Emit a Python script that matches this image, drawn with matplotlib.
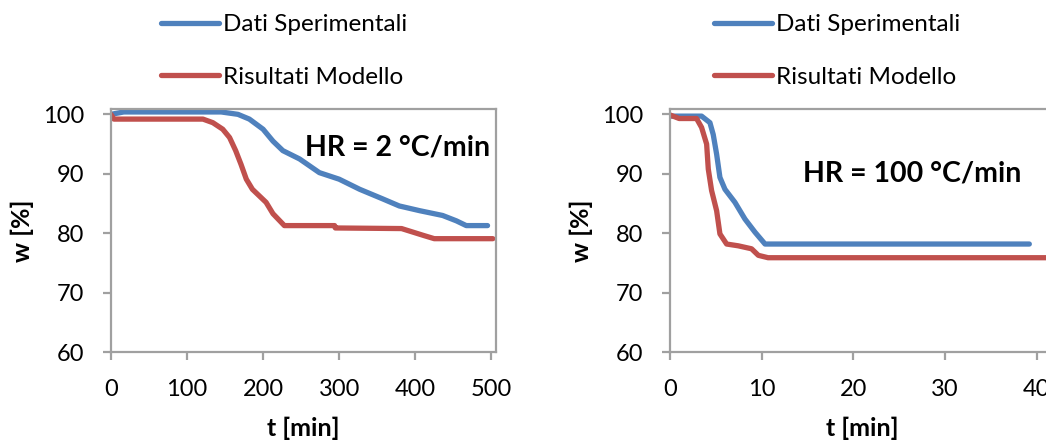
import matplotlib.pyplot as plt

plt.rcParams['font.family'] = ['Lato', 'DejaVu Sans']

# HR = 2 °C/min
t_exp_2 = [0, 17, 145, 167, 182, 200, 213, 226, 248, 274, 300, 327, 357, 379, 406, 436, 454, 467, 495]
w_exp_2 = [100, 100.4, 100.4, 100, 99.2, 97.5, 95.5, 93.9, 92.5, 90.2, 89.1, 87.4, 85.8, 84.6, 83.8, 83.0, 82.1, 81.3, 81.3]
t_mod_2 = [0, 4, 121, 134, 147, 156, 164, 171, 178, 186, 204, 213, 228, 294, 295, 382, 397, 412, 425, 502]
w_mod_2 = [100, 99.2, 99.2, 98.6, 97.5, 96.1, 93.9, 91.6, 89.1, 87.4, 85.2, 83.3, 81.3, 81.3, 80.9, 80.8, 80.2, 79.6, 79.1, 79.1]

# HR = 100 °C/min
t_exp_100 = [0, 3.45, 4.36, 4.72, 5.09, 5.45, 6.0, 7.09, 8.18, 9.27, 10.37, 39.2]
w_exp_100 = [99.7, 99.7, 98.6, 96.6, 93.3, 89.4, 87.4, 85.2, 82.4, 80.2, 78.2, 78.2]
t_mod_100 = [0, 1.0, 2.9, 3.45, 4.0, 4.18, 4.54, 5.09, 5.45, 6.18, 7.45, 8.9, 9.64, 10.7, 45]
w_mod_100 = [99.9, 99.3, 99.3, 97.8, 95.0, 90.8, 87.2, 83.8, 79.9, 78.2, 77.9, 77.4, 76.3, 75.9, 75.9]

blue = '#4F81BD'
red = '#C0504D'
grey = '#A0A0A0'

fig = plt.figure(figsize=(10.46, 4.4), dpi=100)
ax1 = fig.add_axes([0.1060, 0.1993, 0.3681, 0.5530])
ax2 = fig.add_axes([0.6405, 0.1993, 0.3681, 0.5530])


def style(ax, xmax, xticks):
    ax.set_xlim(0, xmax)
    ax.set_ylim(60, 100.9)
    ax.set_xticks(xticks)
    ax.set_yticks([60, 70, 80, 90, 100])
    for s in ax.spines.values():
        s.set_color(grey)
        s.set_linewidth(1.6)
    ax.tick_params(colors=grey, labelcolor='black', width=1.6, length=6,
                   labelsize=17, pad=13)
    ax.set_xlabel('t [min]', fontsize=18, fontweight='bold', labelpad=12)
    ax.set_ylabel('w [%]', fontsize=18, fontweight='bold', labelpad=7)


ax1.plot(t_exp_2, w_exp_2, color=blue, lw=3.8, solid_capstyle='round', label='Dati Sperimentali')
ax1.plot(t_mod_2, w_mod_2, color=red, lw=3.8, solid_capstyle='round', label='Risultati Modello')
style(ax1, 506, [0, 100, 200, 300, 400, 500])
ax1.text(0.984, 0.842, 'HR = 2 °C/min', transform=ax1.transAxes, ha='right', va='center',
         fontsize=20.5, fontweight='bold')

ax2.plot(t_exp_100, w_exp_100, color=blue, lw=3.8, solid_capstyle='round', label='Dati Sperimentali')
ax2.plot(t_mod_100, w_mod_100, color=red, lw=3.8, solid_capstyle='round', label='Risultati Modello')
style(ax2, 42, [0, 10, 20, 30, 40])
ax2.text(0.63, 0.735, 'HR = 100 °C/min', transform=ax2.transAxes, ha='center', va='center',
         fontsize=20.5, fontweight='bold')

for ax, x0 in ((ax1, 161), (ax2, 714)):
    ax.legend(loc='upper left', bbox_to_anchor=(x0 / 1046, 1 - 14 / 440),
              bbox_transform=fig.transFigure, frameon=False, borderpad=0, borderaxespad=0,
              fontsize=17.5, labelspacing=1.3, handlelength=2.4, handletextpad=0.15)

fig.savefig('out.png', dpi=100)
